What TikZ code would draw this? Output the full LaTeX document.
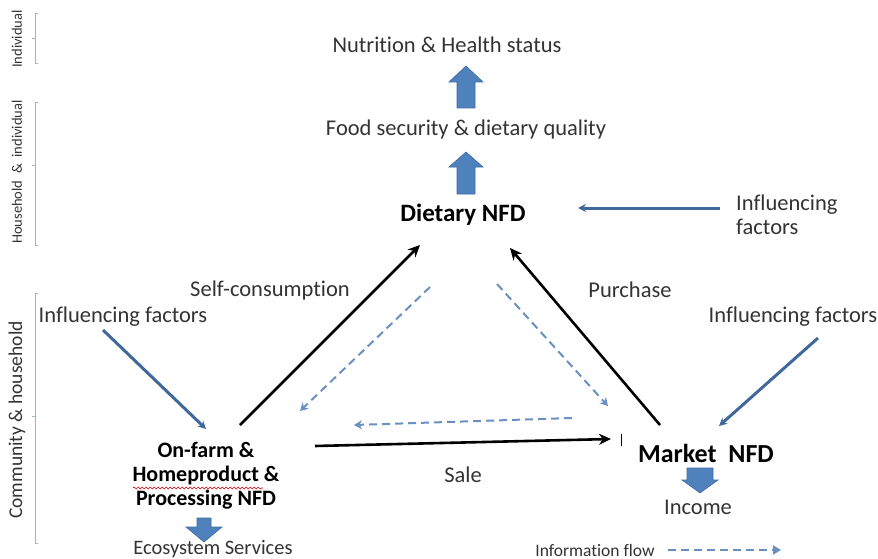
\documentclass[tikz,border=0pt]{standalone}
\usepackage{fontspec}
\setmainfont{Carlito}[Ligatures=CommonOff]
\usetikzlibrary{arrows.meta,decorations.pathmorphing}
\definecolor{txt}{HTML}{333333}
\definecolor{blockfill}{HTML}{4F81BD}
\definecolor{blockdraw}{HTML}{3D6CA3}
\definecolor{infl}{HTML}{41689A}
\definecolor{dash}{HTML}{6A90C2}
\definecolor{brk}{HTML}{9DB3CF}
\begin{document}
\begin{tikzpicture}[x=1pt,y=-1pt,
  lbl/.style={text=txt,font=\fontsize{22.5}{26}\selectfont,inner sep=1pt},
  small/.style={text=txt,font=\fontsize{14.5}{16}\selectfont,inner sep=1pt},
  nfd/.style={text=black,font=\fontsize{22}{24}\selectfont\bfseries,align=center,inner sep=1pt},
  blockarrow/.style={fill=blockfill,draw=blockdraw,line width=0.6pt},
  blackarrow/.style={draw=black,line width=2.6pt,-{Stealth[length=12pt,width=11pt]}},
  inflarrow/.style={draw=infl,line width=3pt,-{Stealth[length=8pt,width=8pt]}},
  dasharrow/.style={draw=dash,line width=2pt,dash pattern=on 8pt off 5pt,-{Stealth[length=8pt,width=9pt]}},
  bracket/.style={draw=brk,line width=1pt}
]
\useasboundingbox (0,0) rectangle (878,559);

% level brackets and labels
\draw[bracket] (38,14) -- (35,14) -- (35,64) -- (38,64);
\draw[bracket] (35,39) -- (32,39);
\node[small,rotate=90] (lvl1) at (17,39) {Individual};
\draw[bracket] (38,103) -- (35,103) -- (35,245) -- (38,245);
\draw[bracket] (35,165) -- (32,165);
\node[small,rotate=90] (lvl2) at (17,172) {Household \ \& \ individual};
\draw[bracket] (38,293) -- (35,293) -- (35,543) -- (38,543);
\draw[bracket] (35,416) -- (32,416);
\node[small,rotate=90,font=\fontsize{19.5}{21}\selectfont] (lvl3) at (17,420) {Community \& household};

% top chain
\node[lbl] (nut) at (447,45) {Nutrition \& Health status};
\draw[blockarrow] (466-9,108) -- (466-9,82) -- (466-17,82) -- (466,66) -- (466+17,82) -- (466+9,82) -- (466+9,108) -- cycle;
\node[lbl] (food) at (466,130) {Food security \& dietary quality};
\draw[blockarrow] (466-9,194) -- (466-9,167) -- (466-17,167) -- (466,152) -- (466+17,167) -- (466+9,167) -- (466+9,194) -- cycle;
\node[nfd,font=\fontsize{25}{26}\selectfont\bfseries] (diet) at (463,215) {Dietary NFD};

% influencing factors
\node[lbl,anchor=west,align=left,font=\fontsize{22.5}{24}\selectfont] (inf1) at (735,215) {Influencing\\factors};
\coordinate (inf1s) at (720,208);
\coordinate (inf1e) at (578,208);
\draw[inflarrow] (inf1s) -- (inf1e);

\node[lbl] (inf2) at (123,317) {Influencing factors};
\coordinate (inf2s) at (103,330);
\coordinate (inf2e) at (206,429);
\draw[inflarrow] (inf2s) -- (inf2e);

\node[lbl] (inf3) at (793,317) {Influencing factors};
\coordinate (inf3s) at (818,338);
\coordinate (inf3e) at (719,426);
\draw[inflarrow] (inf3s) -- (inf3e);

% edge labels
\node[lbl] (self) at (270,290) {Self-consumption};
\node[lbl] (purch) at (630,290) {Purchase};
\node[lbl] (sale) at (463,475) {Sale};

% bottom nodes
\node[nfd] (farm) at (206,476) {On-farm \&\\Homeproduct \&\\Processing NFD};
\draw[red!80!black,line width=0.6pt,decorate,decoration={snake,amplitude=1pt,segment length=4pt}] (133,488) -- (263,488);
\draw[blockarrow] (204-7,518) -- (204-7,527) -- (204-18,527) -- (204,542) -- (204+18,527) -- (204+7,527) -- (204+7,518) -- cycle;
\node[lbl,font=\fontsize{20.5}{22}\selectfont] (eco) at (213,549) {Ecosystem Services};

\node[nfd,font=\fontsize{26}{27}\selectfont\bfseries] (market) at (706,453) {Market\ \ NFD};
\draw[blockarrow] (700-13,468) -- (700-13,480) -- (700-18,480) -- (700,493) -- (700+18,480) -- (700+13,480) -- (700+13,468) -- cycle;
\node[lbl] (income) at (698,507) {Income};
\draw[black,line width=0.7pt] (621,434) -- (621,446);

% black flows
\coordinate (a1s) at (240,425);
\coordinate (a1e) at (420,245);
\draw[blackarrow] (a1s) -- (a1e);
\coordinate (a2s) at (660,425);
\coordinate (a2e) at (510,248);
\draw[blackarrow] (a2s) -- (a2e);
\coordinate (a3s) at (315,446);
\coordinate (a3e) at (611,439);
\draw[blackarrow] (a3s) -- (a3e);

% information flows
\coordinate (d1s) at (430,287);
\coordinate (d1e) at (300,411);
\draw[dasharrow] (d1s) -- (d1e);
\coordinate (d2s) at (497,284);
\coordinate (d2e) at (608,406);
\draw[dasharrow] (d2s) -- (d2e);
\coordinate (d3s) at (572,418);
\coordinate (d3e) at (354,425);
\draw[dasharrow] (d3s) -- (d3e);

\node[small,font=\fontsize{17.5}{19}\selectfont] (info) at (595,550) {Information flow};
\coordinate (is) at (668,550);
\coordinate (ie) at (781,550);
\draw[draw=dash,line width=2pt,dash pattern=on 8pt off 5pt,-{Triangle[length=8pt,width=9pt]}] (is) -- (ie);
\end{tikzpicture}
\end{document}
